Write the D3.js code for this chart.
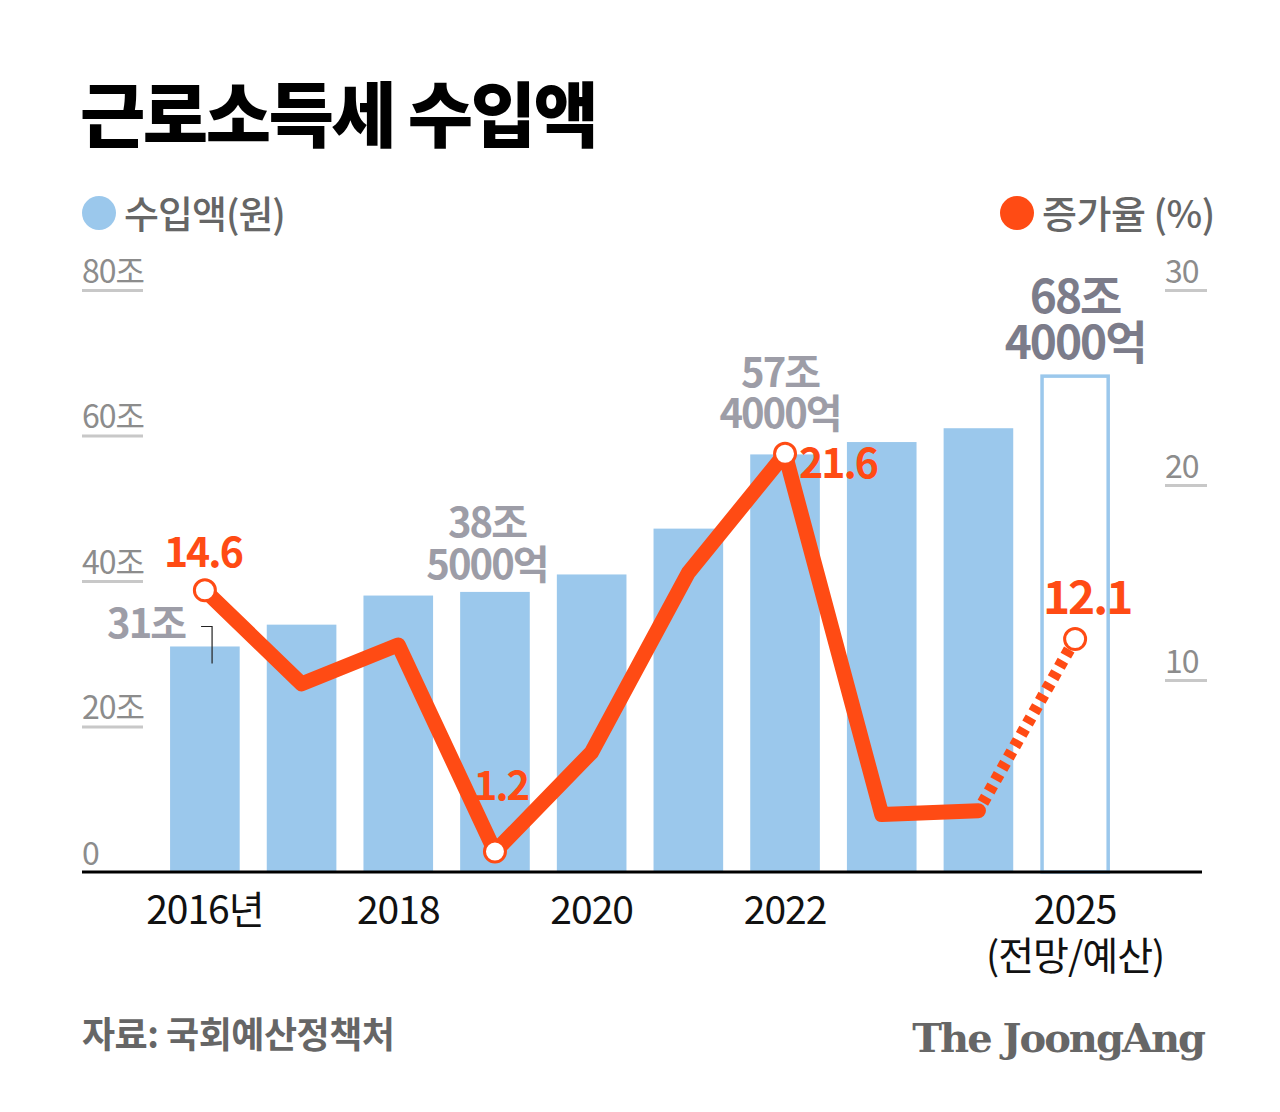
<!DOCTYPE html>
<html>
<head>
<meta charset="utf-8">
<script src="https://cdn.jsdelivr.net/npm/d3@7"></script>
<style>
  body { margin: 0; background: #fff; }
  text { font-family: "Noto Sans CJK KR", "Noto Sans", sans-serif; }
  text.brand { font-family: "DejaVu Serif", "Liberation Serif", serif; }
</style>
</head>
<body>
<div id="chart"></div>
<script>
//=========Data=========//
var years = [2016, 2017, 2018, 2019, 2020, 2021, 2022, 2023, 2024, 2025];
// 수입액 (조 원)
var revenue = [31, 34, 38, 38.5, 40.9, 47.2, 57.4, 59.1, 61.0, 68.4];
// 증가율 (%)
var growth = [14.6, 9.8, 11.8, 1.2, 6.3, 15.5, 21.6, 3.1, 3.3, 12.1];
var leftTicks = [0, 20, 40, 60, 80];
var rightTicks = [10, 20, 30];
var xTicks = [2016, 2018, 2020, 2022, 2025];
// labelled values
var revenueLabels = [
  { year: 2016, lines: ["31조"] },
  { year: 2019, lines: ["38조", "5000억"] },
  { year: 2022, lines: ["57조", "4000억"] },
  { year: 2025, lines: ["68조", "4000억"] },
];
var growthLabels = [2016, 2019, 2022, 2025];

//=========SVG=========//
var svgWidth = 1280;
var svgHeight = 1112;

var blue = "#9bc8ec";
var orange = "#ff4b14";
var labelGray = "#9d9da7";

var svg = d3
  .select("#chart")
  .append("svg")
  .attr("width", svgWidth)
  .attr("height", svgHeight);

//=========Scales=========//
var x = d3.scaleBand().domain(years).range([143, 1137]).padding(0.28);
var yLeft = d3.scaleLinear().domain([0, 80]).range([872, 290]);
var yRight = d3.scaleLinear().domain([0, 30]).range([875, 290]);
var cx = (d) => x(d) + x.bandwidth() / 2;

//=========Title & legends=========//
svg
  .append("text")
  .attr("x", 80)
  .attr("y", 141)
  .attr("font-size", 71)
  .attr("font-weight", 900)
  .attr("letter-spacing", -2.5)
  .attr("fill", "#000")
  .text("근로소득세 수입액");

svg.append("circle").attr("cx", 99).attr("cy", 213).attr("r", 17).attr("fill", blue);
svg
  .append("text")
  .attr("x", 124)
  .attr("y", 228)
  .attr("font-size", 38)
  .attr("font-weight", 500)
  .attr("letter-spacing", -1)
  .attr("fill", "#666")
  .text("수입액(원)");

svg.append("circle").attr("cx", 1017).attr("cy", 213).attr("r", 17).attr("fill", orange);
svg
  .append("text")
  .attr("x", 1042)
  .attr("y", 228)
  .attr("font-size", 38)
  .attr("font-weight", 500)
  .attr("letter-spacing", -0.5)
  .attr("fill", "#666")
  .text("증가율 (%)");

//=========Axes=========//
function styleValueAxis(g) {
  g.select(".domain").remove();
  g.selectAll(".tick line").attr("stroke", "#c8c8c8").attr("stroke-width", 3);
  g.selectAll(".tick text")
    .attr("x", 0)
    .attr("dy", -8)
    .attr("text-anchor", "start")
    .attr("font-size", 32)
    .attr("letter-spacing", -1)
    .attr("fill", "#8c8c8c");
}

var leftAxis = d3
  .axisRight(yLeft)
  .tickValues(leftTicks)
  .tickSize(61)
  .tickFormat((d) => (d === 0 ? "0" : d + "조"));

svg
  .append("g")
  .attr("transform", "translate(82, 0)")
  .call(leftAxis)
  .call(styleValueAxis)
  .call((g) => g.selectAll(".tick line").filter((d) => d === 0).remove());

var rightAxis = d3.axisRight(yRight).tickValues(rightTicks).tickSize(42);

svg
  .append("g")
  .attr("transform", "translate(1165, 0)")
  .call(rightAxis)
  .call(styleValueAxis);

//=========Bars=========//
var last = years.length - 1;
svg
  .append("g")
  .selectAll("rect")
  .data(years)
  .enter()
  .append("rect")
  .attr("x", (d, i) => (i === last ? x(d) + 1.75 : x(d)))
  .attr("y", (d, i) => yLeft(revenue[i]) + (i === last ? 1.75 : 0))
  .attr("width", (d, i) => x.bandwidth() - (i === last ? 3.5 : 0))
  .attr("height", (d, i) => yLeft(0) - yLeft(revenue[i]) - (i === last ? 1.75 : 0))
  .attr("fill", (d, i) => (i === last ? "#fff" : blue))
  .attr("stroke", (d, i) => (i === last ? blue : "none"))
  .attr("stroke-width", 3.5);

// baseline
svg
  .append("line")
  .attr("x1", 82)
  .attr("x2", 1202)
  .attr("y1", yLeft(0))
  .attr("y2", yLeft(0))
  .attr("stroke", "#000")
  .attr("stroke-width", 3);

//=========X axis labels=========//
var bottomAxis = d3
  .axisBottom(x)
  .tickValues(xTicks)
  .tickSize(0)
  .tickPadding(0)
  .tickFormat((d) => (d === 2016 ? "2016년" : d));

var xAxis = svg
  .append("g")
  .attr("transform", `translate(0, ${yLeft(0)})`)
  .call(bottomAxis);

xAxis.select(".domain").remove();
xAxis
  .selectAll(".tick text")
  .attr("y", 52)
  .attr("dy", 0)
  .attr("font-size", 39)
  .attr("letter-spacing", -1)
  .attr("fill", "#111");

xAxis
  .selectAll(".tick text")
  .filter((d) => d === 2025)
  .append("tspan")
  .attr("x", 0)
  .attr("dy", 46)
  .text("(전망/예산)");

//=========Growth line=========//
var line = d3
  .line()
  .x((d) => cx(d.year))
  .y((d) => yRight(d.value));

var points = years.map((d, i) => ({ year: d, value: growth[i] }));

svg
  .append("path")
  .datum(points.slice(0, 9))
  .attr("d", line)
  .attr("fill", "none")
  .attr("stroke", orange)
  .attr("stroke-width", 15)
  .attr("stroke-linejoin", "round")
  .attr("stroke-linecap", "round");

svg
  .append("path")
  .datum(points.slice(8))
  .attr("d", line)
  .attr("fill", "none")
  .attr("stroke", orange)
  .attr("stroke-width", 12)
  .attr("stroke-dasharray", "7,6")
  .attr("stroke-dashoffset", -9);

svg
  .append("g")
  .selectAll("circle")
  .data(points.filter((d) => growthLabels.includes(d.year)))
  .enter()
  .append("circle")
  .attr("cx", (d) => cx(d.year))
  .attr("cy", (d) => yRight(d.value))
  .attr("r", 10.5)
  .attr("fill", "#fff")
  .attr("stroke", orange)
  .attr("stroke-width", 3);

//=========Value labels=========//
// growth labels: offset from the point
var growthOffset = {
  2016: { dx: -2, dy: -23, anchor: "middle", size: 41 },
  2019: { dx: 6, dy: -52, anchor: "middle", size: 40 },
  2022: { dx: 14, dy: 24, anchor: "start", size: 41 },
  2025: { dx: 12, dy: -25, anchor: "middle", size: 46 },
};

svg
  .append("g")
  .selectAll("text")
  .data(points.filter((d) => growthLabels.includes(d.year)))
  .enter()
  .append("text")
  .attr("x", (d) => cx(d.year) + growthOffset[d.year].dx)
  .attr("y", (d) => yRight(d.value) + growthOffset[d.year].dy)
  .attr("text-anchor", (d) => growthOffset[d.year].anchor)
  .attr("font-size", (d) => growthOffset[d.year].size)
  .attr("font-weight", 700)
  .attr("letter-spacing", -2)
  .attr("fill", orange)
  .text((d) => d.value);

// revenue labels: above the bars, one text with a tspan per line
var revenueOffset = {
  2016: { dx: -10, dy: -8, anchor: "end", size: 40, gap: 0, color: labelGray },
  2019: { dx: -8, dy: -13, anchor: "middle", size: 40, gap: 42, color: labelGray },
  2022: { dx: -5, dy: -26, anchor: "middle", size: 40, gap: 41, color: labelGray },
  2025: { dx: 0, dy: -15, anchor: "middle", size: 46, gap: 46, color: "#7c7c8a" },
};

revenueLabels.forEach(function (lab) {
  var i = years.indexOf(lab.year);
  var o = revenueOffset[lab.year];
  var tx = (lab.year === 2016 ? x(lab.year) + 25 : cx(lab.year)) + o.dx;
  var topY = yLeft(revenue[i]) + o.dy - (lab.lines.length - 1) * o.gap;
  var label = svg
    .append("text")
    .attr("x", tx)
    .attr("y", topY)
    .attr("text-anchor", o.anchor)
    .attr("font-size", o.size)
    .attr("font-weight", 700)
    .attr("letter-spacing", -2)
    .attr("fill", o.color);
  lab.lines.forEach(function (t, k) {
    label
      .append("tspan")
      .attr("x", tx)
      .attr("dy", k === 0 ? 0 : o.gap)
      .text(t);
  });
});

// leader line for 31조
var lx = x(2016) + 42;
var ly = yLeft(revenue[0]);
svg
  .append("path")
  .attr("d", `M${lx - 11},${ly - 20}H${lx}V${ly + 17}`)
  .attr("fill", "none")
  .attr("stroke", "#222")
  .attr("stroke-width", 1.2);

//=========Footer=========//
svg
  .append("text")
  .attr("x", 82)
  .attr("y", 1048)
  .attr("font-size", 36)
  .attr("font-weight", 700)
  .attr("letter-spacing", -0.5)
  .attr("fill", "#666")
  .text("자료: 국회예산정책처");

svg
  .append("text")
  .attr("class", "brand")
  .attr("x", 1204)
  .attr("y", 1052)
  .attr("text-anchor", "end")
  .attr("font-size", 40)
  .attr("font-weight", 700)
  .attr("letter-spacing", -2)
  .attr("fill", "#666")
  .text("The JoongAng");
</script>
</body>
</html>
